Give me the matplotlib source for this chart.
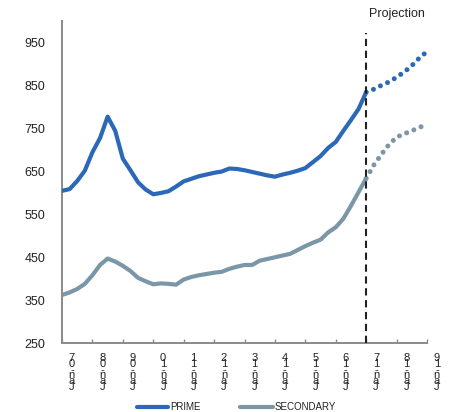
import matplotlib
matplotlib.use("Agg")
import matplotlib.pyplot as plt
from matplotlib.lines import Line2D
import numpy as np

plt.rcParams['font.family'] = ['Liberation Sans', 'DejaVu Sans']

# Quarterly index: 0 = Q1 2007 ... 40 = Q1 2017 (start of projection) ... 48 = Q1 2019
prime_hist = [605, 609, 628, 652, 695, 728, 778, 745, 680, 653, 625, 608, 597,
              600, 604, 615, 627, 633, 639, 643, 647, 650, 657, 656, 653, 649,
              645, 641, 638, 643, 647, 652, 658, 672, 686, 705, 719, 745, 770,
              796, 835]
prime_proj = [835, 842, 851, 859, 870, 882, 897, 915, 930]

secondary_hist = [362, 368, 376, 388, 408, 432, 447, 440, 430, 418, 402, 394,
                  387, 389, 388, 386, 398, 404, 408, 411, 414, 416, 423, 428,
                  432, 432, 442, 446, 450, 454, 458, 467, 476, 484, 491, 508,
                  520, 540, 570, 602, 634]
secondary_proj = [634, 665, 690, 713, 730, 738, 745, 753, 760]

year_labels = ["Jan-07", "Jan-08", "Jan-09", "Jan-10", "Jan-11", "Jan-12",
               "Jan-13", "Jan-14", "Jan-15", "Jan-16", "Jan-17", "Jan-18",
               "Jan-19"]
y_ticks = [250, 350, 450, 550, 650, 750, 850, 950]
projection_start = 40

PRIME_C = "#2b69b8"
SEC_C = "#7b97a7"
AXIS_C = "#8a8a8a"

W, H = 449, 412
fig = plt.figure(figsize=(W / 100, H / 100), dpi=100)
ax = fig.add_axes([62 / W, (H - 343) / H, 365 / W, 321.5 / H])

x_hist = np.arange(len(prime_hist))
x_proj = np.arange(projection_start, projection_start + len(prime_proj))

lw = 3.0
ax.plot(x_hist, prime_hist, color=PRIME_C, lw=lw, solid_capstyle='round',
        solid_joinstyle='round', zorder=3)
ax.plot(x_hist, secondary_hist, color=SEC_C, lw=lw, solid_capstyle='round',
        solid_joinstyle='round', zorder=3)
dot_lw = 3.6
ax.plot(x_proj, prime_proj, color=PRIME_C, lw=dot_lw,
        linestyle=(0, (0.01, 1.55)), dash_capstyle='round', zorder=3)
ax.plot(x_proj, secondary_proj, color=SEC_C, lw=dot_lw,
        linestyle=(0, (0.01, 1.55)), dash_capstyle='round', zorder=3)

# projection boundary
ax.vlines(projection_start, 250, 973, colors="#222222", lw=1.5,
          linestyles=(0, (3.5, 2.2)), zorder=4, clip_on=False)
fig.text(397 / W, 1 - 14 / H, "Projection", ha='center', va='center',
         fontsize=9, color="#222222")

ax.set_xlim(0, 48)
ax.set_ylim(250, 1000)
ax.set_yticks(y_ticks)
ax.set_yticklabels([str(v) for v in y_ticks], fontsize=9, color="#222222")
ax.tick_params(axis='y', length=0, pad=12)
ax.set_xticks(np.arange(0, 49, 4))
ax.set_xticklabels([])
ax.tick_params(axis='x', direction='in', length=3, width=1, color=AXIS_C)

for s in ['top', 'right']:
    ax.spines[s].set_visible(False)
for s in ['left', 'bottom']:
    ax.spines[s].set_color(AXIS_C)
    ax.spines[s].set_linewidth(1.4)

# stacked, bottom-to-top category labels
trans = ax.get_xaxis_transform()
for i, lab in enumerate(year_labels):
    xpos = 4 * i + 1.3
    chars = lab[::-1]
    for j, ch in enumerate(chars):
        ax.annotate(ch, xy=(xpos, 0), xycoords=trans,
                    xytext=(0, -11 - j * 4.1), textcoords='offset points',
                    ha='center', va='center', fontsize=8, color="#222222",
                    annotation_clip=False)

# legend
ly = 1 - 407 / H
fig.add_artist(Line2D([137 / W, 168 / W], [ly, ly], color=PRIME_C, lw=3,
                      solid_capstyle='round', transform=fig.transFigure))
fig.text(170 / W, ly, "PRIME", fontsize=7, va='center', ha='left',
         color="#222222")
fig.add_artist(Line2D([240 / W, 273 / W], [ly, ly], color=SEC_C, lw=3,
                      solid_capstyle='round', transform=fig.transFigure))
fig.text(275 / W, ly, "SECONDARY", fontsize=7, va='center', ha='left',
         color="#222222")

fig.savefig("out.png", dpi=100)
